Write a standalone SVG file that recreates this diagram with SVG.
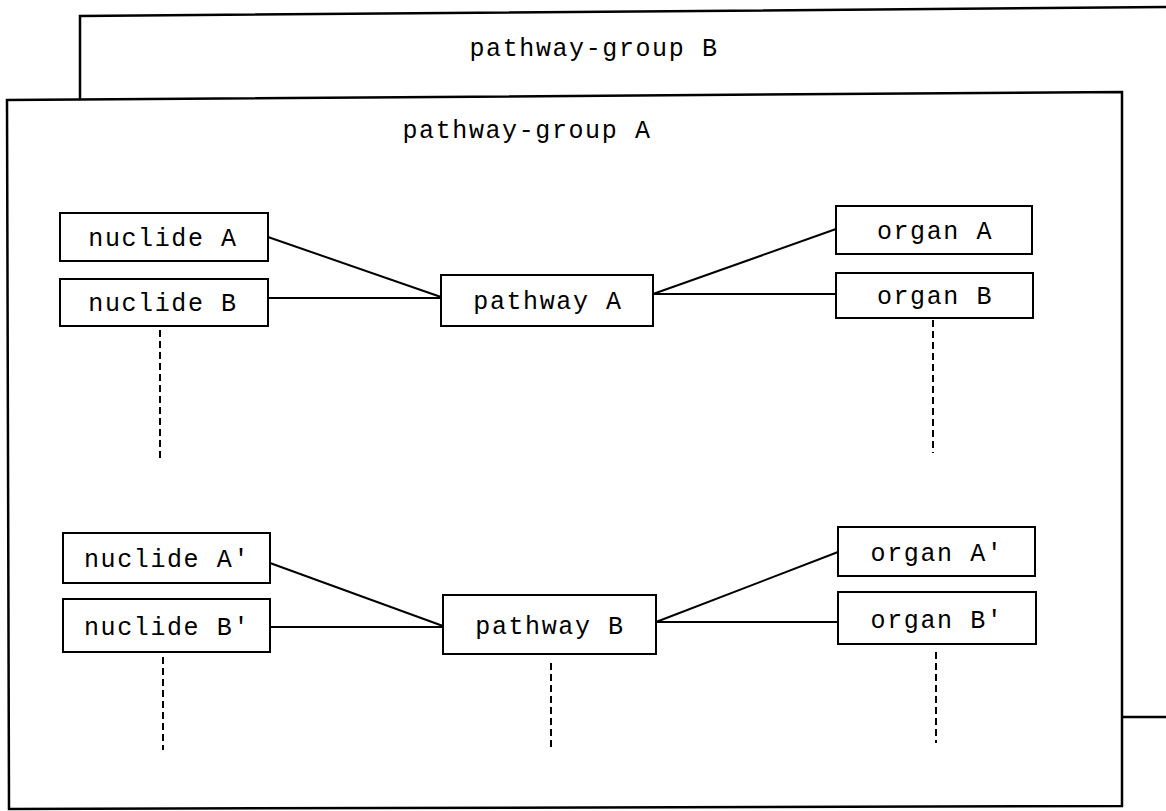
<svg xmlns="http://www.w3.org/2000/svg" width="1166" height="811" viewBox="0 0 1166 811">
<style>
.frame{fill:#fff;stroke:#000;stroke-width:2.5}
.box{fill:#fff;stroke:#000;stroke-width:2}
.lbl{font-family:"Liberation Mono","DejaVu Sans Mono",monospace;font-size:25px;letter-spacing:1.6px;fill:#000;text-anchor:middle}
.ln{stroke:#000;stroke-width:2;fill:none}
.dash{stroke:#000;stroke-width:2;fill:none;stroke-dasharray:7 4}
</style>
<rect width="1166" height="811" fill="#fff"/>
<g id="group-B">
<path class="frame" d="M80,16 L1180,7 L1180,717 L80,717 Z"/>
<text class="lbl" x="594" y="56">pathway-group B</text>
</g>
<g id="group-A">
<path class="frame" d="M7,100 L1122,92 L1122,806 L9,809 Z"/>
<text class="lbl" x="527" y="138">pathway-group A</text>
</g>
<g id="connectors">
<line class="ln" x1="268" y1="237" x2="441" y2="297"/>
<line class="ln" x1="268" y1="298" x2="441" y2="298"/>
<line class="ln" x1="653" y1="294" x2="836" y2="229"/>
<line class="ln" x1="653" y1="294" x2="836" y2="294"/>
<line class="dash" x1="160" y1="330" x2="160" y2="458"/>
<line class="dash" x1="933" y1="320" x2="933" y2="453"/>
<line class="ln" x1="270" y1="563" x2="443" y2="626"/>
<line class="ln" x1="270" y1="627" x2="443" y2="627"/>
<line class="ln" x1="656" y1="622" x2="838" y2="552"/>
<line class="ln" x1="656" y1="622" x2="838" y2="622"/>
<line class="dash" x1="163" y1="657" x2="163" y2="750"/>
<line class="dash" x1="551" y1="663" x2="551" y2="747"/>
<line class="dash" x1="936" y1="652" x2="936" y2="743"/>
</g>
<g id="nuclide-A"><rect class="box" x="60" y="213" width="208" height="48"/><text class="lbl" x="163" y="246">nuclide A</text></g>
<g id="nuclide-B"><rect class="box" x="60" y="279" width="208" height="47"/><text class="lbl" x="163" y="311">nuclide B</text></g>
<g id="pathway-A"><rect class="box" x="441" y="275" width="212" height="51"/><text class="lbl" x="548" y="309">pathway A</text></g>
<g id="organ-A"><rect class="box" x="836" y="206" width="196" height="48"/><text class="lbl" x="935" y="239">organ A</text></g>
<g id="organ-B"><rect class="box" x="836" y="273" width="197" height="45"/><text class="lbl" x="935" y="304">organ B</text></g>
<g id="nuclide-A2"><rect class="box" x="63" y="533" width="207" height="50"/><text class="lbl" x="167" y="567">nuclide A'</text></g>
<g id="nuclide-B2"><rect class="box" x="63" y="599" width="207" height="53"/><text class="lbl" x="167" y="635">nuclide B'</text></g>
<g id="pathway-B"><rect class="box" x="443" y="595" width="213" height="59"/><text class="lbl" x="550" y="634">pathway B</text></g>
<g id="organ-A2"><rect class="box" x="838" y="527" width="197" height="49"/><text class="lbl" x="937" y="561">organ A'</text></g>
<g id="organ-B2"><rect class="box" x="838" y="592" width="198" height="52"/><text class="lbl" x="937" y="628">organ B'</text></g>
</svg>
